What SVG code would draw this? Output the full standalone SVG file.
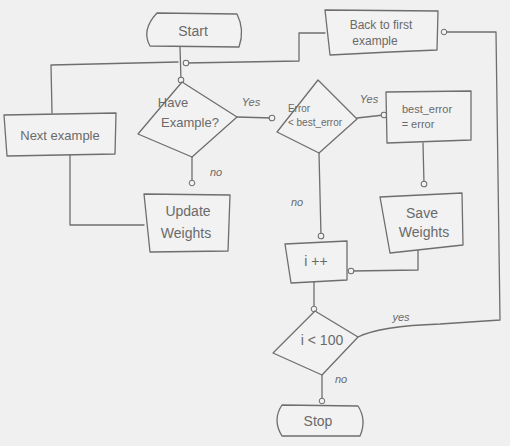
<svg xmlns="http://www.w3.org/2000/svg" width="510" height="446" viewBox="0 0 510 446">
<style>
.s{fill:none;stroke:#6e6e6e;stroke-width:1.3;stroke-linejoin:round;stroke-linecap:round}
.b{fill:#f2f2f2;stroke:#6e6e6e;stroke-width:1.3;stroke-linejoin:round}
.t{font-family:"Liberation Sans",Arial,sans-serif;fill:#6a6a6a;text-anchor:middle}
.m{font-size:14px}
.l{font-size:11px;font-style:italic}
</style>
<defs>
<marker id="o" markerWidth="8" markerHeight="8" refX="4" refY="4" markerUnits="userSpaceOnUse" orient="auto">
<circle cx="4" cy="4" r="2.8" fill="#f2f2f2" stroke="#6e6e6e" stroke-width="1"/>
</marker>
</defs>
<rect width="510" height="446" fill="#f0f0f0"/>
<g id="connectors">
<path class="s" d="M180,47 L181,80" marker-end="url(#o)"/>
<path class="s" d="M52,113 L51,65 L178,62"/>
<path class="s" d="M325,33 L299,33 L299,61 L186,63" marker-end="url(#o)"/>
<path class="s" d="M237,117 L272,118" marker-end="url(#o)"/>
<path class="s" d="M192,157 L192,183" marker-end="url(#o)"/>
<path class="s" d="M144,225 L70,225 L70,155"/>
<path class="s" d="M357,118 L384,115" marker-end="url(#o)"/>
<path class="s" d="M319,153 L321,236" marker-end="url(#o)"/>
<path class="s" d="M423,143 L424,184" marker-end="url(#o)"/>
<path class="s" d="M418,250 L418,270 L351,271" marker-end="url(#o)"/>
<path class="s" d="M314,282 L314,309" marker-end="url(#o)"/>
<path class="s" d="M358,337 Q380,326 440,324 L500,320 L496,32 L444,32" marker-end="url(#o)"/>
<path class="s" d="M322,375 L322,401" marker-end="url(#o)"/>
<text class="t l" x="251" y="106">Yes</text>
<text class="t l" x="216" y="176">no</text>
<text class="t l" x="369" y="103">Yes</text>
<text class="t l" x="297" y="206">no</text>
<text class="t l" x="401" y="321">yes</text>
<text class="t l" x="341" y="383">no</text>
</g>
<g id="start">
<path class="b" d="M157,13 L237,14 Q245,30 239,47 L150,46 Q141,30 157,13 Z"/>
<text class="t m" x="193" y="36">Start</text>
</g>
<g id="back">
<path class="b" d="M325,10 L438,11 L437,50 L390,52 L330,55 Z"/>
<text class="t" font-size="12" x="381" y="29">Back to first</text>
<text class="t" font-size="12" x="375" y="45">example</text>
</g>
<g id="next">
<path class="b" d="M4,115 L116,113 L115,154 L7,156 Z"/>
<text class="t" font-size="13" x="60" y="140">Next example</text>
</g>
<g id="have">
<path class="b" d="M182,82 L237,117 L192,157 L138,134 Z"/>
<text class="t" font-size="13" x="173" y="107">Have</text>
<text class="t" font-size="13" x="190" y="127">Example?</text>
</g>
<g id="update">
<path class="b" d="M144,194 L230,195 L228,251 L150,252 Z"/>
<text class="t m" x="188" y="216">Update</text>
<text class="t m" x="186" y="238">Weights</text>
</g>
<g id="error">
<path class="b" d="M318,80 L357,119 L319,153 L277,132 Z"/>
<text class="t" font-size="10" x="299" y="112">Error</text>
<text class="t" font-size="10" x="315" y="126">&lt; best_error</text>
</g>
<g id="best">
<path class="b" d="M386,92 L471,91 L471,140 L387,143 Z"/>
<text class="t" font-size="11" x="427" y="113">best_error</text>
<text class="t" font-size="11" x="418" y="128">= error</text>
</g>
<g id="save">
<path class="b" d="M380,197 L462,193 L463,245 L390,253 Z"/>
<text class="t m" x="422" y="218">Save</text>
<text class="t m" x="424" y="237">Weights</text>
</g>
<g id="inc">
<path class="b" d="M285,244 L347,241 L347,280 L291,283 Z"/>
<text class="t m" x="316" y="266">i ++</text>
</g>
<g id="cond">
<path class="b" d="M315,311 L358,337 L322,375 L273,353 Z"/>
<text class="t m" x="322" y="345">i &lt; 100</text>
</g>
<g id="stop">
<path class="b" d="M282,405 L358,406 Q367,420 360,436 L282,436 Q272,420 282,405 Z"/>
<text class="t m" x="318" y="426">Stop</text>
</g>
</svg>
